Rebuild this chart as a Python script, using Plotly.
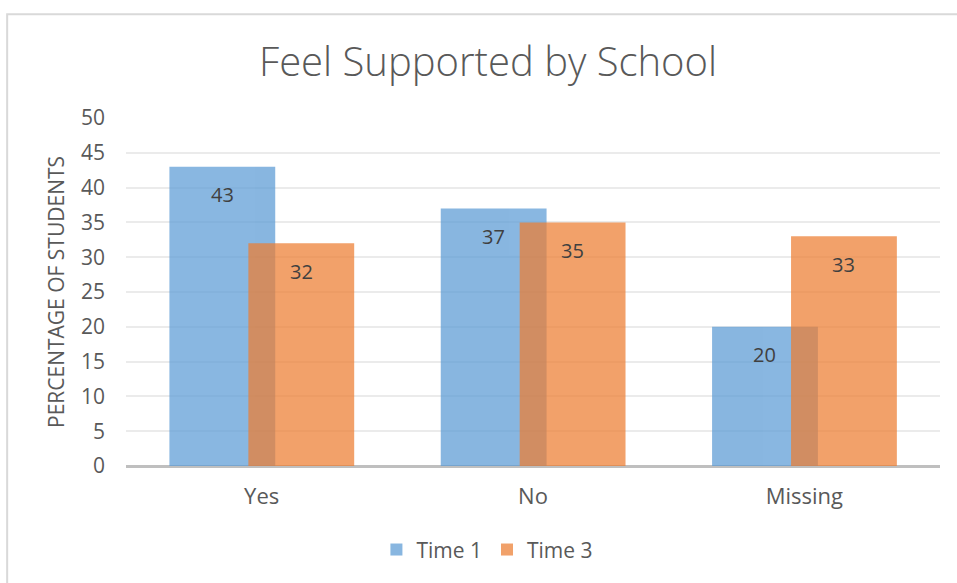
import plotly.graph_objects as go

categories = ["Yes", "No", "Missing"]
time1 = [43, 37, 20]
time3 = [32, 35, 33]
series_names = ["Time 1", "Time 3"]
y_ticks = [0, 5, 10, 15, 20, 25, 30, 35, 40, 45, 50]

FONT = "Open Sans"
TEXT = "#595959"
BAR_W = 0.39
OFFSETS = [-0.34, -0.049]
COLORS = ["#5B9BD5", "#ED7D31"]

fig = go.Figure()
for name, vals, off, col in zip(series_names, [time1, time3], OFFSETS, COLORS):
    fig.add_trace(go.Bar(
        name=name, x=categories, y=vals,
        width=BAR_W, offset=off,
        marker=dict(color=col, line=dict(width=0)),
        opacity=0.72,
        hoverinfo="skip",
    ))

# value labels just inside the top of each bar
for vals, off in zip([time1, time3], OFFSETS):
    for i, v in enumerate(vals):
        fig.add_annotation(
            x=i + off + BAR_W / 2, y=v, text=str(v),
            showarrow=False, yshift=-28, yanchor="middle",
            font=dict(family=FONT, size=20, color="#404040"),
        )

# y-axis title
fig.add_annotation(
    xref="paper", yref="paper", x=-0.086, y=0.5,
    xanchor="center", yanchor="middle",
    text="PERCENTAGE OF STUDENTS", textangle=-90, showarrow=False,
    font=dict(family=FONT, size=21, color=TEXT),
)

# chart frame
fig.add_shape(
    type="rect", xref="paper", yref="paper",
    x0=-0.146, x1=1.06, y0=-0.4, y1=1.298,
    line=dict(color="#d9d9d9", width=2), layer="below",
)

fig.update_layout(
    width=957, height=583,
    barmode="overlay",
    paper_bgcolor="white", plot_bgcolor="white",
    margin=dict(l=126, r=17, t=118, b=117),
    title=dict(
        text="Feel Supported by School",
        x=0.51, xanchor="center", y=0.893, yanchor="middle",
        font=dict(family=FONT, size=40, color=TEXT, weight=300),
    ),
    legend=dict(
        orientation="h", x=0.444, xanchor="center", y=-0.241, yanchor="middle",
        font=dict(family=FONT, size=21, color=TEXT),
        itemwidth=30, traceorder="normal",
    ),
    showlegend=True,
)
fig.update_xaxes(
    type="category", range=[-0.5, 2.5],
    showgrid=False, showline=False, ticks="",
    tickfont=dict(family=FONT, size=22, color=TEXT),
    ticklabelstandoff=15,
)
fig.update_yaxes(
    range=[0, 50], tickvals=y_ticks, ticks="",
    showgrid=True, gridcolor="#ebebeb", gridwidth=1.5,
    zeroline=True, zerolinecolor="#bfbfbf", zerolinewidth=2.5,
    tickfont=dict(family=FONT, size=21, color=TEXT),
    ticklabelstandoff=20,
)

fig.write_html("out.html")
